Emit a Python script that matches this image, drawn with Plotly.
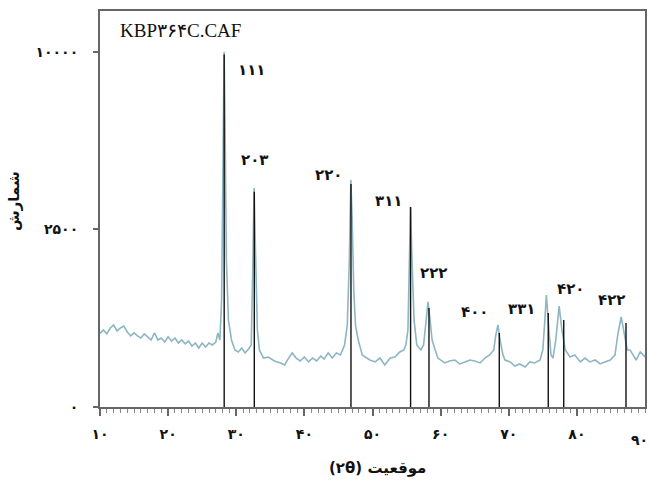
import numpy as np
import plotly.graph_objects as go

# ---- data ----
two_theta = [10.0, 10.5, 11.0, 11.5, 12.0, 12.5, 13.0, 13.5, 14.0, 14.5, 15.0, 15.5, 16.0, 16.5,
             17.0, 17.5, 18.0, 18.5, 19.0, 19.5, 20.0, 20.5, 21.0, 21.5, 22.0, 22.5, 23.0, 23.5,
             24.0, 24.5, 25.0, 25.5, 26.0, 26.5, 27.0, 27.3, 27.6, 27.85, 28.0, 28.12, 28.22,
             28.35, 28.55, 28.85, 29.3, 29.8, 30.3, 30.8, 31.3, 31.8, 32.2, 32.42, 32.62, 32.82,
             33.1, 33.4, 34.0, 34.7, 35.6, 36.5, 37.1, 37.6, 38.2, 38.8, 39.4, 40.0, 40.6, 41.2,
             41.8, 42.4, 42.9, 43.5, 44.1, 44.7, 45.3, 45.9, 46.3, 46.6, 46.72, 46.82, 47.0, 47.25,
             47.5, 47.9, 48.5, 48.9, 49.6, 50.4, 51.1, 51.8, 52.6, 53.3, 54.0, 54.6, 54.9, 55.2,
             55.38, 55.58, 55.8, 56.1, 56.5, 57.1, 57.5, 57.85, 58.15, 58.45, 58.75, 59.2, 59.6,
             60.6, 61.3, 62.1, 62.8, 63.6, 64.3, 65.0, 65.8, 66.5, 67.2, 67.8, 68.1, 68.42, 68.72,
             69.15, 69.45, 70.2, 70.9, 71.6, 72.4, 73.1, 73.8, 74.6, 75.0, 75.3, 75.52, 75.9, 76.2,
             76.5, 76.9, 77.4, 77.8, 78.3, 79.0, 79.7, 80.5, 81.2, 81.9, 82.7, 83.4, 84.1, 84.9,
             85.6, 86.0, 86.5, 86.9, 87.4, 87.8, 88.2, 88.7, 89.3, 90.0]
counts = [430, 470, 423, 495, 534, 458, 495, 520, 446, 400, 435, 400, 378, 423,
          390, 356, 435, 356, 378, 335, 390, 345, 378, 325, 356, 315, 345, 295,
          325, 276, 325, 285, 325, 305, 335, 435, 356, 908, 3400, 7480, 10000,
          6530, 1715, 600, 356, 258, 240, 276, 231, 267, 305, 1489, 3806, 1956,
          470, 258, 190, 198, 168, 154, 140, 182, 232, 190, 168, 198, 161, 190,
          168, 206, 182, 232, 190, 232, 215, 305, 534, 1715, 3400, 4089, 2925, 1086,
          534, 356, 215, 198, 175, 161, 190, 140, 190, 198, 240, 258, 305, 470,
          1715, 3174, 1715, 601, 305, 258, 305, 601, 875, 601, 356, 258, 190,
          154, 168, 175, 147, 161, 175, 168, 154, 190, 215, 258, 411, 534, 356,
          215, 175, 161, 133, 147, 127, 161, 154, 175, 258, 601, 995, 470, 215,
          190, 356, 809, 470, 258, 198, 215, 161, 190, 161, 175, 147, 161, 175,
          215, 411, 643, 470, 258, 258, 215, 175, 240, 198]

stick_pos = [28.23, 32.65, 46.84, 55.59, 58.29, 68.61, 75.80, 78.07, 87.21]
stick_counts = [9850, 3670, 3945, 3170, 778, 434, 701, 600, 560]
stick_labels = ["۱۱۱", "۲۰۳", "۲۲۰", "۳۱۱", "۲۲۲", "۴۰۰", "۳۳۱", "۴۲۰", "۴۲۲"]

x_tick_vals = [10, 20, 30, 40, 50, 60, 70, 80, 90]
x_tick_text = ["۱۰", "۲۰", "۳۰", "۴۰", "۵۰", "۶۰", "۷۰", "۸۰", "۹۰"]
y_tick_counts = [0, 2500, 10000]
y_tick_text = ["۰", "۲۵۰۰", "۱۰۰۰۰"]

sample_name = "KBP۳۶۴C.CAF"
x_title = "موقعیت (۲θ)"
y_title = "شمارش"

# label placement (x in 2θ, y in sqrt-count units) -- layout only
label_xy = [(32.3, 94.9), (32.75, 69.6), (43.6, 65.4), (52.3, 58.0), (58.9, 37.7),
            (65.0, 26.8), (71.9, 27.6), (79.0, 33.2), (85.15, 30.1)]

# ---- figure (square-root intensity scale) ----
fig = go.Figure()

fig.add_trace(go.Scatter(
    x=two_theta, y=np.sqrt(np.array(counts, dtype=float)),
    mode="lines", line=dict(color="#8db6c3", width=1.6), hoverinfo="skip"))

sx, sy = [], []
for p, c in zip(stick_pos, stick_counts):
    sx += [p, p, None]
    sy += [0, float(np.sqrt(c)), None]
fig.add_trace(go.Scatter(x=sx, y=sy, mode="lines",
                         line=dict(color="#111111", width=1.4), hoverinfo="skip"))

# the x title is shown right-to-left: Persian word on the right, "(۲θ)" on the left
rtl_x_title = " ".join(reversed(x_title.split(" ")))

ann = []
for (lx, ly), t in zip(label_xy, stick_labels):
    ann.append(dict(x=lx, y=ly, xref="x", yref="y", text="<b>" + t + "</b>", showarrow=False,
                    font=dict(family="DejaVu Sans", size=15, color="#111")))
ann.append(dict(x=0.033, y=0.95, xref="paper", yref="paper", text=sample_name,
                showarrow=False, xanchor="left", yanchor="middle",
                font=dict(family="Liberation Serif", size=19, color="#111")))
ann.append(dict(x=0.51, y=-0.155, xref="paper", yref="paper", text="<b>" + rtl_x_title + "</b>",
                showarrow=False, xanchor="center", yanchor="middle",
                font=dict(family="DejaVu Sans", size=15, color="#111")))
ann.append(dict(x=-0.158, y=0.52, xref="paper", yref="paper", text="<b>" + y_title + "</b>",
                showarrow=False, textangle=-90, xanchor="center", yanchor="middle",
                font=dict(family="DejaVu Sans", size=15, color="#111")))
# last x tick label sits against the right page edge, so place it as an annotation
ann.append(dict(x=1.0085, y=-0.083, xref="paper", yref="paper", text="<b>" + x_tick_text[-1] + "</b>",
                showarrow=False, xanchor="right", yanchor="middle",
                font=dict(family="DejaVu Sans", size=14, color="#111")))

fig.update_layout(
    width=650, height=484,
    margin=dict(l=100, r=5, t=11, b=77, autoexpand=False),
    paper_bgcolor="white", plot_bgcolor="white",
    showlegend=False,
    annotations=ann,
)
fig.update_xaxes(
    range=[10, 90], tickvals=x_tick_vals[:-1], ticktext=x_tick_text[:-1], automargin=False,
    showgrid=False, zeroline=False, showline=True, mirror=True,
    linecolor="#666", linewidth=2, ticks="outside", ticklen=7, tickwidth=1.5,
    tickcolor="#666", ticklabelstandoff=6,
    tickfont=dict(family="DejaVu Sans", size=14, color="#111", weight="bold"),
    minor=dict(dtick=1, ticks="outside", ticklen=4, tickcolor="#888", tickwidth=1),
)
fig.update_yaxes(
    range=[0, 111.5], tickvals=[float(np.sqrt(v)) for v in y_tick_counts], ticktext=y_tick_text,
    automargin=False,
    showgrid=False, zeroline=False, showline=True, mirror=True,
    linecolor="#666", linewidth=2, ticks="outside", ticklen=5, tickwidth=1.5,
    tickcolor="#666", ticklabelstandoff=12,
    tickfont=dict(family="DejaVu Sans", size=14, color="#111", weight="bold"),
)

fig.write_html("out.html")
